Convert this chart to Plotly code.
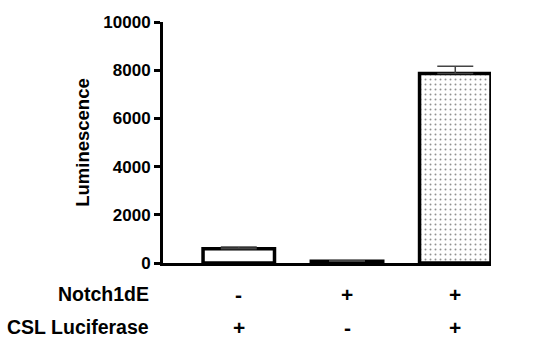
import plotly.graph_objects as go

categories = ["A", "B", "C"]
values = [590, 70, 7860]
errors = [70, 20, 300]
notch_row = ["-", "+", "+"]
csl_row = ["+", "-", "+"]
row_labels = ["Notch1dE", "CSL Luciferase"]
y_ticks = [0, 2000, 4000, 6000, 8000, 10000]

FONT = "Liberation Sans, Arial, sans-serif"

fig = go.Figure()
fig.add_trace(go.Bar(
    x=categories, y=values,
    width=0.66,
    marker=dict(
        color="white",
        line=dict(color="black", width=3.5),
        pattern=dict(
            shape=["", "", "."],
            fgcolor="#222",
            bgcolor="white",
            size=5,
            solidity=0.12,
        ),
    ),
    error_y=dict(type="data", array=errors, arrayminus=[0, 0, 0], symmetric=False,
                 color="#444", thickness=1.5, width=18),
))

plot_left, plot_right, plot_top, plot_bottom = 163, 491, 22, 263
ph = plot_bottom - plot_top
row_y = [-(294 - plot_bottom) / ph, -(327 - plot_bottom) / ph]

annotations = []
for i, c in enumerate(categories):
    for r, row in enumerate([notch_row, csl_row]):
        annotations.append(dict(x=c, xref="x", y=row_y[r], yref="paper", text="<b>%s</b>" % row[i],
                                showarrow=False, xanchor="center", yanchor="middle",
                                font=dict(family=FONT, size=21, color="black")))
for r, lab in enumerate(row_labels):
    annotations.append(dict(x=(151 - plot_left) / (plot_right - plot_left), xref="paper",
                            y=row_y[r], yref="paper", text="<b>%s</b>" % lab,
                            showarrow=False, xanchor="right", yanchor="middle",
                            font=dict(family=FONT, size=19.5, color="black")))

fig.update_layout(
    width=545, height=344,
    margin=dict(l=plot_left, r=545 - plot_right, t=plot_top, b=344 - plot_bottom),
    plot_bgcolor="white", paper_bgcolor="white",
    showlegend=False,
    font=dict(family=FONT, color="black"),
    xaxis=dict(range=[-0.70, 2.33], showline=True, linecolor="black", linewidth=3,
               showticklabels=False, ticks="", showgrid=False, zeroline=False),
    yaxis=dict(range=[0, 10000], tickvals=y_ticks, ticktext=["<b>%d</b>" % v for v in y_ticks],
               showline=True, linecolor="black", linewidth=3,
               ticks="outside", ticklen=6, tickwidth=3, tickcolor="black",
               tickfont=dict(family=FONT, size=17, color="black"),
               showgrid=False, zeroline=False,
               title=dict(text="<b>Luminescence</b>", font=dict(family=FONT, size=18.5, color="black"),
                          standoff=9)),
    annotations=annotations,
)

fig.write_html("out.html")
